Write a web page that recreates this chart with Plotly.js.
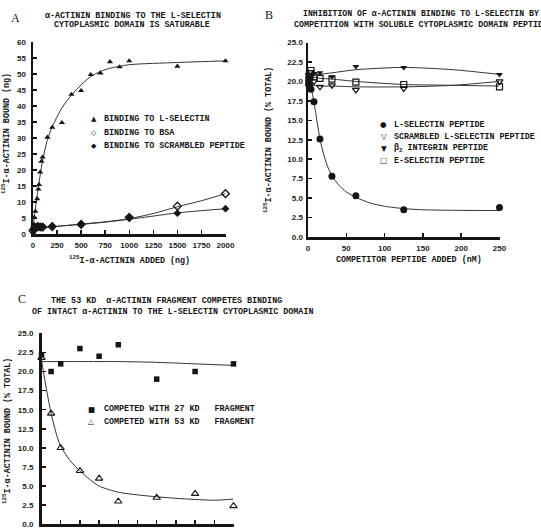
<!DOCTYPE html>
<html>
<head>
<meta charset="utf-8">
<script src="https://cdn.plot.ly/plotly-3.0.1.min.js"></script>
<style>
  html, body { margin: 0; padding: 0; background: #fff; }
  #fig { width: 541px; height: 530px; }
</style>
</head>
<body>
<div id="fig"></div>
<script>
// ---- Panel A: 125I-alpha-actinin added (ng) vs bound (ng) ----
const aLselX = [0, 6.25, 12.5, 25, 43.75, 56.25, 62.5, 75, 87.5, 100, 150, 200, 300, 400, 500, 600, 700, 800, 900, 1000, 1500, 2000];
const aLselY = [0.6, 2.5, 5.2, 7.1, 11.0, 14.0, 15.4, 19.3, 22.7, 24.0, 30.2, 33.3, 34.8, 43.6, 44.8, 49.8, 50.3, 53.8, 52.2, 54.1, 52.4, 54.1];
const aLselFitX = [0, 12.5, 25, 50, 75, 100, 150, 200, 300, 400, 500, 600, 700, 800, 1000, 1500, 2000];
const aLselFitY = [0.8, 5.0, 8.0, 13.5, 18.5, 23.0, 29.5, 33.5, 39.4, 43.4, 46.6, 49.2, 50.8, 51.8, 52.9, 53.6, 54.1];

const aBsaX = [0, 12.5, 25, 50, 75, 100, 200, 500, 1000, 1500, 2000];
const aBsaY = [1.0, 1.5, 2.0, 2.3, 2.2, 2.1, 2.3, 3.0, 5.2, 8.7, 12.6];
const aScrX = [0, 12.5, 25, 50, 75, 100, 200, 500, 1000, 1500, 2000];
const aScrY = [1.5, 2.5, 2.0, 2.5, 2.2, 2.4, 2.5, 3.1, 5.0, 6.5, 7.9];
const aLowFitX = [0, 100, 250, 500, 750, 1000, 1250, 1500, 1750, 2000];
const aBsaFitY = [1.5, 2.0, 2.4, 3.1, 3.8, 4.8, 6.4, 8.5, 10.4, 12.6];
const aScrFitY = [1.5, 2.0, 2.4, 3.0, 3.7, 4.6, 5.6, 6.6, 7.3, 7.9];

// ---- Panel B: competitor peptide (nM) vs bound (% total) ----
const bDoseX = [0.98, 1.95, 3.9, 7.8, 15.6, 31.25, 62.5, 125, 250];
const bLselY = [20.5, 19.5, 19.0, 17.4, 12.6, 7.8, 5.3, 3.5, 3.8];
const bScrY  = [20.8, 20.3, 21.2, 20.0, 19.3, 19.5, 18.9, 19.1, 20.0];
const bB2Y   = [20.5, 20.0, 20.3, 21.0, 21.1, 20.6, 21.9, 21.8, 20.9];
const bEselY = [19.8, 21.0, 21.4, 20.6, 20.4, 20.3, 19.9, 19.6, 19.3];
const bLselFitX = [0, 2, 4, 6, 7.8, 10, 12.5, 15.6, 20, 25, 31.25, 40, 50, 62.5, 80, 100, 125, 150, 200, 250];
const bLselFitY = [21.2, 20.3, 19.3, 18.3, 17.3, 16.0, 14.4, 12.6, 10.8, 9.2, 7.9, 6.7, 5.8, 5.1, 4.4, 3.95, 3.65, 3.5, 3.42, 3.4];
const bFlatFitX = [0, 15.6, 31.25, 62.5, 125, 190, 250];
const bScrFitY  = [19.6, 19.4, 19.4, 19.3, 19.3, 19.5, 20.0];
const bB2FitY   = [20.6, 20.9, 21.1, 21.5, 21.8, 21.5, 20.9];
const bEselFitY = [20.7, 20.4, 20.3, 20.0, 19.6, 19.5, 19.4];

// ---- Panel C: fragment competition (x axis partly off page) ----
const cDoseX = [0, 2.5, 5, 10, 15, 20, 30, 40, 50];
const c27Y = [22.2, 20.0, 21.0, 23.0, 22.0, 23.5, 19.0, 20.0, 21.0];
const c53Y = [21.8, 14.5, 10.0, 7.0, 6.0, 3.0, 3.5, 4.0, 2.4];
const c27FitX = [0, 10, 20, 30, 40, 50];
const c27FitY = [21.3, 21.3, 21.3, 21.2, 21.0, 20.8];
const c53FitX = [0, 1, 2.5, 4, 5, 7.5, 10, 12.5, 15, 20, 25, 30, 35, 40, 45, 50];
const c53FitY = [21.5, 18.5, 14.5, 11.6, 10.2, 8.3, 7.0, 5.9, 5.0, 4.2, 3.85, 3.6, 3.4, 3.25, 3.15, 3.3];

// ---- text ----
const legendA = [['▲', 'BINDING TO L-SELECTIN'], ['◇', 'BINDING TO BSA'], ['◆', 'BINDING TO SCRAMBLED PEPTIDE']];
const legendB = [['●', 'L-SELECTIN PEPTIDE'], ['▽', 'SCRAMBLED L-SELECTIN PEPTIDE'], ['▼', 'β<sub>2</sub> INTEGRIN PEPTIDE'], ['□', 'E-SELECTIN PEPTIDE']];
const legendC = [['■', 'COMPETED WITH 27 KD   FRAGMENT'], ['△', 'COMPETED WITH 53 KD   FRAGMENT']];

const W = 541, H = 530;
const fx = x => x / W;
const fy = y => 1 - y / H;
const INK = '#151515';
const mono = (size) => ({family: 'Liberation Mono, DejaVu Sans Mono, monospace', size: size, color: INK, weight: 'bold'});

function pts(x, y, xa, ya, symbol, size, lw) {
  return {type: 'scatter', mode: 'markers', x: x, y: y, xaxis: xa, yaxis: ya,
    marker: {symbol: symbol, size: size, color: INK, line: {color: INK, width: lw}},
    cliponaxis: false, showlegend: false, hoverinfo: 'skip'};
}
function fit(x, y, xa, ya) {
  return {type: 'scatter', mode: 'lines', x: x, y: y, xaxis: xa, yaxis: ya,
    line: {color: '#333', width: 1, shape: 'spline', smoothing: 0.7},
    cliponaxis: false, showlegend: false, hoverinfo: 'skip'};
}

const data = [
  fit(aLselFitX, aLselFitY, 'x', 'y'),
  fit(aLowFitX, aBsaFitY, 'x', 'y'),
  fit(aLowFitX, aScrFitY, 'x', 'y'),
  pts(aLselX, aLselY, 'x', 'y', 'triangle-up', 5.5, 0),
  pts(aBsaX, aBsaY, 'x', 'y', 'diamond-open', 6, 1.3),
  pts(aScrX, aScrY, 'x', 'y', 'diamond', 6, 0),

  fit(bLselFitX, bLselFitY, 'x2', 'y2'),
  fit(bFlatFitX, bScrFitY, 'x2', 'y2'),
  fit(bFlatFitX, bB2FitY, 'x2', 'y2'),
  fit(bFlatFitX, bEselFitY, 'x2', 'y2'),
  pts(bDoseX, bLselY, 'x2', 'y2', 'circle', 7, 0),
  pts(bDoseX, bScrY, 'x2', 'y2', 'triangle-down-open', 6, 1.2),
  pts(bDoseX, bB2Y, 'x2', 'y2', 'triangle-down', 6, 0),
  pts(bDoseX, bEselY, 'x2', 'y2', 'square-open', 6, 1.2),

  fit(c27FitX, c27FitY, 'x3', 'y3'),
  fit(c53FitX, c53FitY, 'x3', 'y3'),
  pts(cDoseX, c27Y, 'x3', 'y3', 'square', 5.5, 0),
  pts(cDoseX, c53Y, 'x3', 'y3', 'triangle-up-open', 6.5, 1.1)
];

const axBase = {
  showline: true, linewidth: 2.5, linecolor: INK,
  ticks: 'inside', ticklen: 4, tickwidth: 1.5, tickcolor: INK,
  showgrid: false, zeroline: false, fixedrange: true,
  tickfont: {family: 'Liberation Sans, Arial, sans-serif', size: 8, color: '#222', weight: 'bold'}
};
const ax = (o) => Object.assign({}, axBase, o);

function note(x, y, text, font, extra) {
  return Object.assign({xref: 'paper', yref: 'paper', x: fx(x), y: fy(y), text: text,
    showarrow: false, xanchor: 'center', yanchor: 'middle', font: font}, extra || {});
}
function legendRows(rows, symX, textX, y0, dy, symSize) {
  const out = [];
  rows.forEach((r, i) => {
    out.push(note(symX, y0 + i * dy, r[0], {family: 'DejaVu Sans', size: symSize, color: INK}));
    out.push(note(textX, y0 + i * dy, r[1], mono(8.4), {xanchor: 'left'}));
  });
  return out;
}

const letter = {family: 'Liberation Serif, serif', size: 12, color: INK};
const annotations = [
  note(15, 18, 'A', letter),
  note(133, 15.5, 'α-ACTININ BINDING TO THE L-SELECTIN', mono(8.4)),
  note(132, 24.5, 'CYTOPLASMIC DOMAIN IS SATURABLE', mono(8.4)),
  note(6, 134, '<sup>125</sup>I-α-ACTININ BOUND (ng)', mono(8.4), {textangle: -90}),
  note(129, 260, '<sup>125</sup>I-α-ACTININ ADDED (ng)', mono(8.4)),

  note(269, 15, 'B', letter),
  note(421, 13.5, 'INHIBITION OF α-ACTININ BINDING TO L-SELECTIN BY', mono(8.2)),
  note(292, 24.5, 'COMPETITION WITH SOLUBLE CYTOPLASMIC DOMAIN PEPTIDE', mono(8.3), {xanchor: 'left'}),
  note(268, 140, '<sup>125</sup>I-α-ACTININ BOUND (% TOTAL)', mono(8.4), {textangle: -90}),
  note(409, 260, 'COMPETITOR PEPTIDE ADDED (nM)', mono(8.4)),

  note(22, 299, 'C', letter),
  note(49, 300.7, 'THE 53 KD  α-ACTININ FRAGMENT COMPETES BINDING', mono(8.4), {xanchor: 'left'}),
  note(30, 312, 'OF INTACT α-ACTININ TO THE L-SELECTIN CYTOPLASMIC DOMAIN', mono(8.4), {xanchor: 'left'}),
  note(7, 431, '<sup>125</sup>I-α-ACTININ BOUND (% TOTAL)', mono(8.4), {textangle: -90})
].concat(
  legendRows(legendA, 94, 101.5, 119.3, 13.2, 7),
  legendRows(legendB, 383.5, 392, 124.5, 12, 7.5),
  legendRows(legendC, 91, 101.7, 409, 12.7, 7.5)
);

const layout = {
  width: W, height: H,
  margin: {l: 0, r: 0, t: 0, b: 0},
  paper_bgcolor: '#fff', plot_bgcolor: '#fff',
  showlegend: false,
  xaxis:  ax({domain: [fx(33), fx(225.5)], range: [0, 2000], dtick: 250, anchor: 'y', ticklabelstandoff: 2}),
  yaxis:  ax({domain: [fy(234), fy(42)], range: [0, 60], dtick: 5, anchor: 'x', ticklabelstandoff: 3}),
  xaxis2: ax({domain: [fx(308), fx(499.5)], range: [0, 250], dtick: 50, anchor: 'y2', ticklabelstandoff: 2}),
  yaxis2: ax({domain: [fy(237), fy(42.5)], range: [0, 25], dtick: 2.5, tickformat: '.1f', anchor: 'x2', ticklabelstandoff: 1}),
  xaxis3: ax({domain: [fx(41.5), fx(233.5)], range: [0, 50], dtick: 5, anchor: 'y3', ticklabelstandoff: 2}),
  yaxis3: ax({domain: [fy(524.3), fy(333.3)], range: [0, 25], dtick: 2.5, tickformat: '.1f', anchor: 'x3', ticklabelstandoff: 4}),
  annotations: annotations
};

Plotly.newPlot('fig', data, layout, {staticPlot: true, displayModeBar: false});
</script>
</body>
</html>
